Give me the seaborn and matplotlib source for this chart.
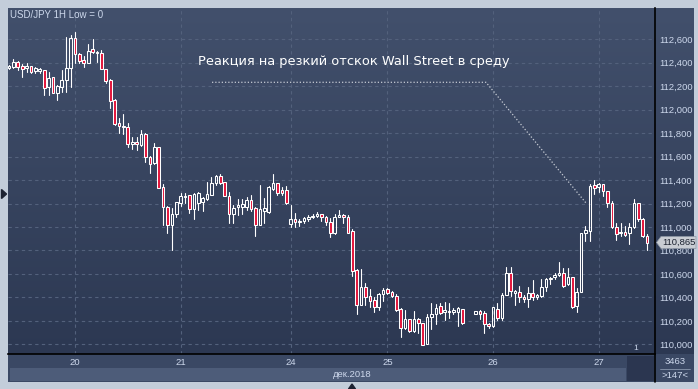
import numpy as np
import pandas as pd
import matplotlib
matplotlib.use("Agg")
import matplotlib.pyplot as plt
from matplotlib.patches import Rectangle, Polygon
from matplotlib.lines import Line2D
from matplotlib.colors import LinearSegmentedColormap
import seaborn as sns

# USD/JPY 1H, 20-27 дек. 2018
nan = np.nan
open_ = [
    112.353, 112.366, 112.404, 112.372, 112.358, 112.370, 112.330, 112.332, 112.338, 112.196,
    112.276, 112.145, 112.196, 112.253, 112.353, 112.608, 112.475, 112.423, 112.400, 112.515,
    112.481, 112.486, 112.344, 112.253, 112.083, 111.884, 111.863, 111.850, 111.705, 111.727,
    111.699, 111.793, 111.599, 111.543, 111.679, 111.338, 111.173, 111.017, 111.109, 111.207,
    111.253, 111.270, 111.151, 111.207, 111.215, 111.236, 111.273, 111.372, 111.435, 111.386,
    111.264, 111.111, 111.168, 111.173, 111.173, 111.230, 111.159, 111.017, 111.139, 111.130,
    111.321, 111.372, 111.315, 111.315, 111.023, 111.065, 111.040, 111.054, 111.065, 111.082,
    111.094, 111.111, 111.089, 111.040, 110.946, 111.088, 111.102, 111.088, 110.968, 110.633,
    110.335, 110.491, 110.412, 110.378, 110.320, 110.426, 110.469, 110.448, 110.414, 110.301,
    110.136, 110.218, 110.113, 110.213, 110.179, 109.999, 110.235, 110.256, 110.327, 110.278,
    110.284, 110.278, 110.278, 110.298, nan, nan, 110.258, 110.284, 110.264, 110.170,
    110.156, 110.298, 110.222, 110.420, 110.605, 110.440, 110.448, 110.406, 110.384, 110.435,
    110.401, 110.412, 110.491, 110.557, 110.571, 110.591, 110.610, 110.511, 110.571, 110.329,
    110.448, 110.946, 110.968, 111.358, 111.341, 111.364, 111.304, 111.207, 110.997, 110.946,
    110.960, 110.946, 110.996, 111.202, 111.066, 110.921]
high = [
    112.378, 112.429, 112.418, 112.389, 112.395, 112.375, 112.364, 112.358, 112.338, 112.324,
    112.279, 112.210, 112.338, 112.622, 112.637, 112.665, 112.486, 112.458, 112.560, 112.600,
    112.503, 112.509, 112.347, 112.259, 112.091, 111.926, 111.963, 111.889, 111.765, 111.765,
    111.827, 111.799, 111.605, 111.718, 111.684, 111.366, 111.179, 111.159, 111.215, 111.292,
    111.287, 111.273, 111.287, 111.301, 111.258, 111.386, 111.424, 111.443, 111.452, 111.386,
    111.301, 111.187, 111.236, 111.236, 111.253, 111.273, 111.168, 111.358, 111.244, 111.349,
    111.452, 111.378, 111.343, 111.349, 111.187, 111.122, 111.065, 111.088, 111.100, 111.111,
    111.128, 111.111, 111.094, 111.074, 111.111, 111.145, 111.111, 111.102, 110.980, 110.639,
    110.639, 110.520, 110.469, 110.401, 110.435, 110.477, 110.482, 110.457, 110.426, 110.307,
    110.292, 110.218, 110.284, 110.227, 110.179, 110.258, 110.349, 110.343, 110.349, 110.361,
    110.349, 110.307, 110.320, 110.304, nan, nan, 110.281, 110.292, 110.281, 110.179,
    110.320, 110.349, 110.435, 110.656, 110.662, 110.463, 110.497, 110.420, 110.491, 110.548,
    110.429, 110.554, 110.563, 110.576, 110.605, 110.704, 110.648, 110.648, 110.576, 110.477,
    110.951, 111.008, 111.366, 111.401, 111.372, 111.366, 111.309, 111.224, 111.037, 111.037,
    111.008, 111.031, 111.236, 111.207, 111.079, 110.938]
low = [
    112.347, 112.353, 112.338, 112.276, 112.319, 112.315, 112.310, 112.310, 112.125, 112.125,
    112.140, 112.083, 112.153, 112.153, 112.196, 112.395, 112.395, 112.361, 112.400, 112.481,
    112.409, 112.344, 112.230, 112.012, 111.869, 111.799, 111.793, 111.684, 111.665, 111.656,
    111.690, 111.557, 111.463, 111.537, 111.330, 111.017, 110.951, 110.804, 111.085, 111.179,
    111.202, 111.119, 111.071, 111.145, 111.139, 111.230, 111.273, 111.358, 111.366, 111.264,
    111.037, 111.037, 111.102, 111.111, 111.145, 111.139, 110.923, 111.017, 111.031, 111.119,
    111.315, 111.273, 111.273, 111.196, 110.997, 110.997, 111.008, 111.031, 111.054, 111.077,
    111.082, 111.054, 111.017, 110.917, 110.940, 111.082, 111.031, 110.951, 110.582, 110.258,
    110.335, 110.335, 110.315, 110.278, 110.292, 110.372, 110.429, 110.401, 110.284, 110.065,
    110.130, 110.107, 110.107, 110.099, 109.991, 109.999, 110.128, 110.170, 110.256, 110.207,
    110.227, 110.258, 110.156, 110.170, nan, nan, 110.258, 110.213, 110.094, 110.136,
    110.150, 110.207, 110.207, 110.420, 110.412, 110.335, 110.363, 110.363, 110.320, 110.378,
    110.384, 110.401, 110.457, 110.514, 110.554, 110.582, 110.491, 110.505, 110.307, 110.278,
    110.448, 110.880, 110.883, 111.281, 111.298, 111.267, 111.170, 110.989, 110.889, 110.926,
    110.923, 110.855, 110.989, 111.051, 110.915, 110.800]
close = [
    112.372, 112.404, 112.361, 112.349, 112.372, 112.324, 112.353, 112.344, 112.182, 112.268,
    112.145, 112.202, 112.253, 112.353, 112.608, 112.475, 112.418, 112.395, 112.503, 112.489,
    112.492, 112.344, 112.247, 112.074, 111.875, 111.861, 111.850, 111.705, 111.727, 111.705,
    111.793, 111.599, 111.534, 111.679, 111.330, 111.168, 111.017, 111.111, 111.209, 111.264,
    111.267, 111.151, 111.277, 111.287, 111.244, 111.281, 111.378, 111.435, 111.378, 111.264,
    111.111, 111.159, 111.187, 111.196, 111.230, 111.151, 111.017, 111.151, 111.159, 111.338,
    111.378, 111.292, 111.292, 111.207, 111.065, 111.040, 111.054, 111.074, 111.088, 111.096,
    111.111, 111.088, 111.040, 110.951, 111.088, 111.102, 111.088, 110.951, 110.627, 110.335,
    110.491, 110.406, 110.372, 110.320, 110.429, 110.463, 110.440, 110.414, 110.292, 110.136,
    110.213, 110.113, 110.216, 110.179, 109.991, 110.235, 110.258, 110.307, 110.264, 110.292,
    110.273, 110.295, 110.312, 110.179, nan, nan, 110.281, 110.256, 110.170, 110.156,
    110.315, 110.222, 110.420, 110.605, 110.457, 110.457, 110.401, 110.384, 110.435, 110.406,
    110.420, 110.491, 110.557, 110.568, 110.591, 110.610, 110.497, 110.571, 110.320, 110.443,
    110.946, 110.975, 111.349, 111.330, 111.364, 111.304, 111.207, 110.996, 110.940, 110.960,
    110.932, 110.996, 111.202, 111.065, 110.921, 110.865]

day_idx = [15, 39, 64, 86, 110, 134]
day_labels = ["20", "21", "24", "25", "26", "27"]
price_ticks = [110.0, 110.2, 110.4, 110.6, 110.8, 111.0, 111.2,
               111.4, 111.6, 111.8, 112.0, 112.2, 112.4, 112.6]
last_price = 110.865
title = "USD/JPY 1H Low = 0"
note = "Реакция на резкий отскок Wall Street в среду"
month_label = "дек.2018"
bars_info = ["3463", ">147<"]

RED = "#e3163c"
TXT = "#cdd8ec"
W, H = 698, 389


def fx(x):
    return x / W


def fy(y):
    return 1 - y / H


def rect(fig, x0, y0, x1, y1, color, z=-1):
    fig.add_artist(Rectangle((fx(x0), fy(y1)), (x1 - x0) / W, (y1 - y0) / H,
                             transform=fig.transFigure, facecolor=color,
                             edgecolor="none", zorder=z))


sns.set_theme(style="dark", rc={"axes.grid": True})
plt.rcParams["font.family"] = ["Liberation Sans", "DejaVu Sans"]

df = pd.DataFrame({"open": open_, "high": high, "low": low, "close": close})
df["idx"] = np.arange(len(df))
df = df.dropna()
df["top"] = df[["open", "close"]].max(axis=1)
df["bot"] = df[["open", "close"]].min(axis=1)

# фитили: верхний и нижний отдельно, чтобы полые свечи были пустыми
up = df[["idx", "high", "top"]].melt(id_vars="idx", value_name="price")
up["seg"] = "u" + up["idx"].astype(str)
lo = df[["idx", "bot", "low"]].melt(id_vars="idx", value_name="price")
lo["seg"] = "l" + lo["idx"].astype(str)
wicks = pd.concat([up, lo], ignore_index=True)

fig = plt.figure(figsize=(6.98, 3.89), dpi=100, facecolor="#c3cdda")
bg = LinearSegmentedColormap.from_list("bg", ["#2c3852", "#42506c"])
grad = np.linspace(0, 1, 256).reshape(-1, 1)

# фон шкалы цен
axp = fig.add_axes([fx(655), fy(354.3), (694 - 655) / W, (354.3 - 8.3) / H], zorder=-1)
axp.imshow(grad, extent=[0, 1, 0, 1], cmap=bg, aspect="auto", origin="lower")
axp.axis("off")

ax = fig.add_axes([fx(8.3), fy(354.3), 646.7 / W, 346 / H])
ax.imshow(grad, extent=[0, 1, 0, 1], transform=ax.transAxes, cmap=bg,
          aspect="auto", origin="lower", zorder=0)

sns.lineplot(data=wicks, x="idx", y="price", units="seg", estimator=None,
             color="white", linewidth=0.8, sort=False, legend=False, ax=ax, zorder=3)
bull = df["close"] >= df["open"]
ax.bar(df["idx"], df["top"] - df["bot"], bottom=df["bot"], width=0.6,
       color=np.where(bull, "none", RED), edgecolor="white", linewidth=0.75, zorder=4)

ax.set_xlim(-0.16, 146.8)
ax.set_ylim(109.915, 112.864)
ax.set_xlabel("")
ax.set_ylabel("")

ax.set_xticks(day_idx, day_labels)
ax.yaxis.tick_right()
ax.set_yticks(price_ticks, [f"{v:.3f}".replace(".", ",") for v in price_ticks])
ax.tick_params(axis="y", length=0, pad=3, labelsize=6.8, labelcolor=TXT)
ax.tick_params(axis="x", length=0, pad=3, labelsize=6.8, labelcolor=TXT)
ax.grid(True, color="#53617c", linestyle=(0, (3, 3)), linewidth=0.8)
ax.set_axisbelow(True)
for s in ax.spines.values():
    s.set_visible(False)
for s in ("right", "bottom"):
    ax.spines[s].set_visible(True)
    ax.spines[s].set_color("black")
    ax.spines[s].set_linewidth(1.2)

# нижняя панель дат
rect(fig, 8.3, 354.3, 694, 382, "#3a4864")
rect(fig, 10, 368, 626, 381, "#4d5c79")
rect(fig, 627, 356, 654, 381, "#2b3650")
fig.add_artist(Line2D([fx(655), fx(655)], [fy(354), fy(382)], transform=fig.transFigure,
                      color="black", lw=1.2))
fig.add_artist(Line2D([fx(660), fx(690)], [fy(368.5), fy(368.5)], transform=fig.transFigure,
                      color="#8a97ad", lw=0.6))
fig.text(fx(352), fy(374.5), month_label, ha="center", va="center", fontsize=6.8, color=TXT)
fig.text(fx(675), fy(362), bars_info[0], ha="center", va="center", fontsize=6.8, color=TXT)
fig.text(fx(675), fy(375), bars_info[1], ha="center", va="center", fontsize=6.8, color=TXT)

# подписи на графике
fig.text(fx(10), fy(15), title, ha="left", va="center", fontsize=7, color=TXT)
fig.text(fx(636), fy(348), "1", ha="center", va="center", fontsize=6, color=TXT)
fig.text(fx(198), fy(61), note, ha="left", va="center", fontsize=9.4,
         color="white", family=["DejaVu Sans"])
fig.add_artist(Line2D([fx(212), fx(486), fx(586)], [fy(82.3), fy(82.3), fy(203)],
                      transform=fig.transFigure, color="#c6cbd4", lw=0.9,
                      linestyle=(0, (1, 1.6))))

# метка последней цены
tag_y = 242.5
fig.add_artist(Polygon([(fx(656.5), fy(tag_y)), (fx(661), fy(tag_y - 6)), (fx(696), fy(tag_y - 6)),
                        (fx(696), fy(tag_y + 6)), (fx(661), fy(tag_y + 6))], closed=True,
                       transform=fig.transFigure, facecolor="#c9cdd3", edgecolor="#8f99a6",
                       lw=0.5, zorder=5))
fig.text(fx(678.5), fy(tag_y), f"{last_price:.3f}".replace(".", ","), ha="center", va="center",
         fontsize=6.8, color="#1b2230", zorder=6)

# маленькие треугольники на рамке
fig.add_artist(Polygon([(fx(1.5), fy(189.5)), (fx(6.5), fy(194)), (fx(1.5), fy(198.5))],
                       transform=fig.transFigure, color="#1c2232", zorder=5))
fig.add_artist(Polygon([(fx(348.5), fy(389)), (fx(352), fy(384)), (fx(355.5), fy(389))],
                       transform=fig.transFigure, color="#1c2232", zorder=5))

fig.savefig("out.png", dpi=100, facecolor=fig.get_facecolor())
